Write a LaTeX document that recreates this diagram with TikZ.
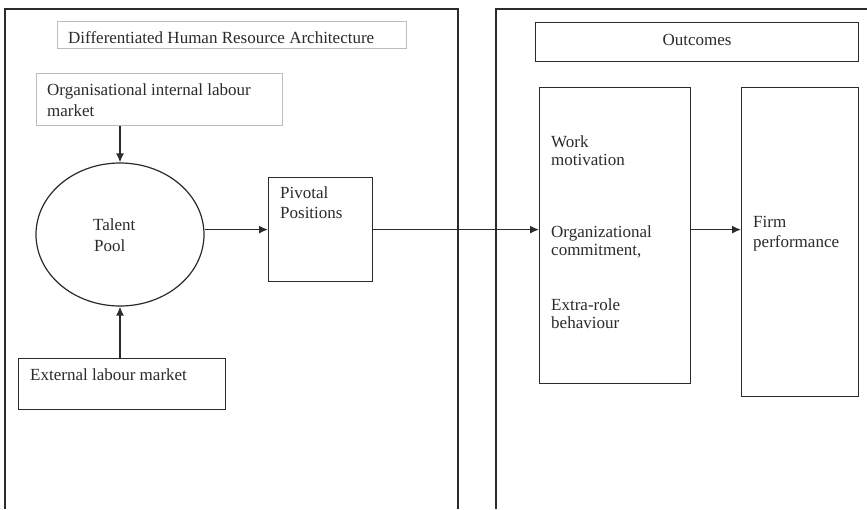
\documentclass[tikz,border=0pt]{standalone}
\usepackage{fontspec}
\setmainfont{Liberation Serif}
\usetikzlibrary{arrows.meta,shapes.geometric}
\definecolor{ink}{HTML}{2B2B2B}
\definecolor{lightframe}{HTML}{BDBDBD}
\begin{document}
\begin{tikzpicture}[x=1pt,y=-1pt,
  box/.style={draw=ink,line width=1.2pt,rectangle,inner sep=0pt,anchor=north west},
  lightbox/.style={draw=lightframe,line width=1.2pt,rectangle,inner sep=0pt,anchor=north west},
  txt/.style={anchor=base west,inner sep=0pt,text=ink,font=\fontsize{17}{20}\selectfont},
  arr/.style={draw=ink,line width=1.4pt,-{Latex[length=9pt,width=8pt]}},
  panel/.style={draw=ink,line width=1.3pt}]
\useasboundingbox (0,0) rectangle (867,509);
\fill[white] (0,0) rectangle (867,509);
% panels
\draw[panel] (5,509) -- (5,9) -- (458,9) -- (458,509);
\draw[panel] (496,509) -- (496,9) -- (867,9);
% boxes
\node[lightbox,minimum width=349pt,minimum height=27pt] (dhra) at (57,21) {};
\node[lightbox,minimum width=246pt,minimum height=52pt] (org) at (36,73) {};
\node[draw=ink,line width=1.2pt,ellipse,minimum width=168pt,minimum height=143pt,inner sep=0pt] (tp) at (120,234.5) {};
\node[box,minimum width=104pt,minimum height=104pt] (piv) at (268,177) {};
\node[box,minimum width=207pt,minimum height=51pt] (ext) at (18,358) {};
\node[box,minimum width=323pt,minimum height=39pt] (out) at (535,22) {};
\node[box,minimum width=151pt,minimum height=296pt] (work) at (539,87) {};
\node[box,minimum width=117pt,minimum height=309pt] (firm) at (741,87) {};
% texts
\node[txt] (t1) at (68,43) {Differentiated Human Resource Architecture};
\node[txt] (t2) at (47,95) {Organisational internal labour};
\node[txt] (t3) at (47,116) {market};
\node[txt] (t4) at (93,230) {Talent};
\node[txt] (t5) at (94,251) {Pool};
\node[txt] (t6) at (280,198) {Pivotal};
\node[txt] (t7) at (280,218) {Positions};
\node[txt] (t8) at (30,380) {External labour market};
\node[txt,anchor=base] (t9) at (697,45) {Outcomes};
\node[txt] (t10) at (551,147) {Work};
\node[txt] (t11) at (551,165) {motivation};
\node[txt] (t12) at (551,237) {Organizational};
\node[txt] (t13) at (551,255) {commitment,};
\node[txt] (t14) at (551,310) {Extra-role};
\node[txt] (t15) at (551,328) {behaviour};
\node[txt] (t16) at (753,227) {Firm};
\node[txt] (t17) at (753,247) {performance};
% connectors
\draw[arr] (org.south -| tp.north) -- (tp.north);
\draw[arr] (tp.south |- ext.north) -- (tp.south);
\draw[arr] (tp.east |- piv.west) -- (piv.west);
\draw[arr] (piv.east) -- (piv.east -| work.west);
\draw[arr] (work.east |- piv.east) -- (firm.west |- piv.east);
\end{tikzpicture}
\end{document}
